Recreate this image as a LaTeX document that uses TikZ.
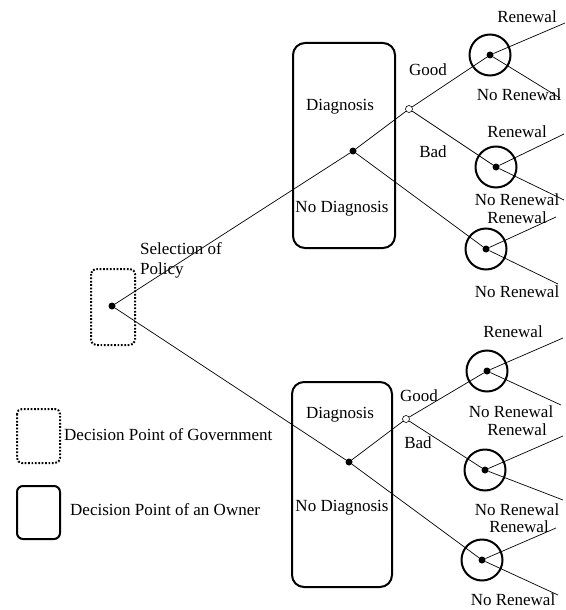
\documentclass[tikz,border=0pt]{standalone}
\usepackage{fontspec}
\setmainfont{Liberation Serif}
\usetikzlibrary{positioning}
\tikzset{
  govbox/.style={draw, rounded corners=5pt, line width=2pt, dash pattern=on 1.7pt off 1.7pt},
  ownbox/.style={draw, rounded corners=12pt, line width=2pt},
  legbox/.style={draw, rounded corners=6pt, line width=2pt},
  dot/.style={circle, fill, inner sep=0pt, minimum size=7pt},
  chance/.style={circle, draw, fill=white, inner sep=0pt, minimum size=7pt, line width=0.6pt},
  ring/.style={circle, draw, line width=2pt, inner sep=0pt, minimum size=41pt},
  branch/.style={line width=0.7pt},
  lbl/.style={font=\fontsize{17}{20}\selectfont, inner sep=0pt},
}

\begin{document}
\begin{tikzpicture}[x=1pt, y=-1pt]
  \useasboundingbox (0,0) rectangle (565,610);
  % decision boxes
  \draw[govbox] (91,269) rectangle (135,345);
  \draw[ownbox] (293,43) rectangle (395,248);
  \draw[ownbox] (292,382) rectangle (392,587);
  % legend
  \draw[govbox] (17,409) rectangle (60,463);
  \draw[legbox] (17,486) rectangle (60,539);
  \node[lbl, anchor=west] (lg) at (64,435) {Decision Point of Government};
  \node[lbl, anchor=west] (lo) at (70,510) {Decision Point of an Owner};

  % nodes of the tree
  \node[dot] (root) at (112,306) {};
  \node[dot] (up)   at (353,151) {};
  \node[dot] (dn)   at (349,462) {};
  \node[chance] (cu) at (409,109) {};
  \node[chance] (cd) at (406,419) {};

  \node[ring] at (490,55) {};   \node[dot] (u1) at (490,55) {};
  \node[ring] at (496,167) {};  \node[dot] (u2) at (496,167) {};
  \node[ring] at (486,249) {};  \node[dot] (u3) at (486,249) {};
  \node[ring] at (487,371) {};  \node[dot] (d1) at (487,371) {};
  \node[ring] at (485,470) {};  \node[dot] (d2) at (485,470) {};
  \node[ring] at (482,560) {};  \node[dot] (d3) at (482,560) {};

  % free ends
  \coordinate (u1a) at (565,23);  \coordinate (u1b) at (560,98);
  \coordinate (u2a) at (564,134); \coordinate (u2b) at (564,200);
  \coordinate (u3a) at (556,217); \coordinate (u3b) at (558,284);
  \coordinate (d1a) at (563,338); \coordinate (d1b) at (561,405);
  \coordinate (d2a) at (563,436); \coordinate (d2b) at (563,500);
  \coordinate (d3a) at (556,528); \coordinate (d3b) at (558,595);

  \draw[branch] (root) -- (up);
  \draw[branch] (root) -- (dn);
  \draw[branch] (up) -- (cu);
  \draw[branch] (up) -- (u3);
  \draw[branch] (dn) -- (cd);
  \draw[branch] (dn) -- (d3);
  \draw[branch] (cu) -- (u1);
  \draw[branch] (cu) -- (u2);
  \draw[branch] (cd) -- (d1);
  \draw[branch] (cd) -- (d2);
  \foreach \n in {u1,u2,u3,d1,d2,d3}{
    \draw[branch] (\n) -- (\n a);
    \draw[branch] (\n) -- (\n b);
  }

  % labels
  \node[lbl, align=left, anchor=west] (sel) at (140,260) {Selection of\\Policy};
  \node[lbl] (dgu) at (340,107) {Diagnosis};
  \node[lbl] (ndu) at (342,209) {No Diagnosis};
  \node[lbl] (dgd) at (340,415) {Diagnosis};
  \node[lbl] (ndd) at (342,508) {No Diagnosis};
  \node[lbl] (gu) at (428,70)  {Good};
  \node[lbl] (bu) at (433,152) {Bad};
  \node[lbl] (gd) at (419,396) {Good};
  \node[lbl] (bd) at (418,443) {Bad};

  \node[lbl] at (527,17)  {Renewal};
  \node[lbl] at (519,95)  {No Renewal};
  \node[lbl] at (517,132) {Renewal};
  \node[lbl] at (517,200) {No Renewal};
  \node[lbl] at (517,218) {Renewal};
  \node[lbl] at (517,292) {No Renewal};
  \node[lbl] at (513,332) {Renewal};
  \node[lbl] at (511,412) {No Renewal};
  \node[lbl] at (517,430) {Renewal};
  \node[lbl] at (517,510) {No Renewal};
  \node[lbl] at (519,527) {Renewal};
  \node[lbl] at (513,600) {No Renewal};
\end{tikzpicture}
\end{document}
